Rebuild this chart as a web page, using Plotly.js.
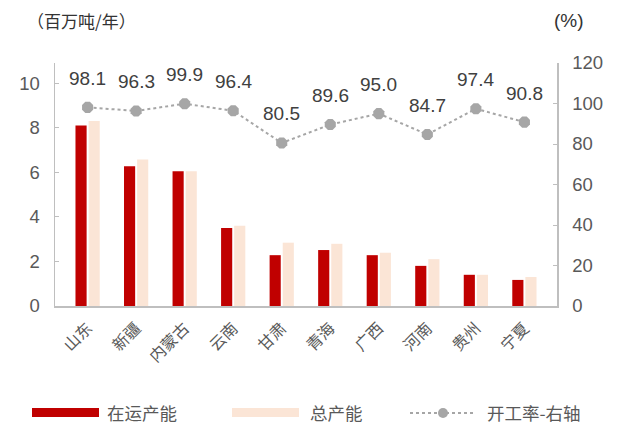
<!DOCTYPE html>
<html>
<head>
<meta charset="utf-8">
<script src="https://cdn.plot.ly/plotly-3.0.1.min.js"></script>
<style>html,body{margin:0;padding:0;background:#fff;}#chart{width:621px;height:426px;}</style>
</head>
<body>
<div id="chart"></div>
<script>
const categories = ['山东','新疆','内蒙古','云南','甘肃','青海','广西','河南','贵州','宁夏'];
const operatingCapacity = [8.1, 6.27, 6.04, 3.5, 2.28, 2.51, 2.28, 1.8, 1.4, 1.17];
const totalCapacity = [8.3, 6.57, 6.04, 3.6, 2.84, 2.79, 2.39, 2.1, 1.4, 1.3];
const utilizationRate = [98.1, 96.3, 99.9, 96.4, 80.5, 89.6, 95.0, 84.7, 97.4, 90.8];
const seriesNames = ['在运产能', '总产能', '开工率-右轴'];
const leftUnit = '（百万吨/年）';
const rightUnit = '(%)';

// plot area in pixels
const L = 55, R = 557, T = 63, B = 306;
const px = x => (x - L) / (R - L);
const py = y => (B - y) / (B - T);

const cjk = '"Noto Sans CJK SC", sans-serif';
const num = '"Liberation Sans", Arial, sans-serif';
const dark = '#C00000', light = '#FBE5D6', grey = '#A6A6A6';

const traces = [
  {type:'bar', name:seriesNames[0], x:categories, y:operatingCapacity, marker:{color:dark}, hoverinfo:'none'},
  {type:'bar', name:seriesNames[1], x:categories, y:totalCapacity, marker:{color:light}, hoverinfo:'none'},
  {type:'scatter', mode:'lines+markers', name:seriesNames[2], x:categories, y:utilizationRate, yaxis:'y2',
   line:{color:grey, width:2, dash:'dot'}, marker:{symbol:'octagon', size:12, color:grey}, hoverinfo:'none'}
];

const annotations = utilizationRate.map((v, i) => ({
  x: categories[i], y: v, xref:'x', yref:'y2', yshift: 29, showarrow:false,
  text: v.toFixed(1), font:{family:num, size:19, color:'#404040'}
}));

annotations.push(
  {xref:'paper', yref:'paper', x:px(25), y:py(20), xanchor:'left', yanchor:'middle', showarrow:false,
   text:leftUnit, font:{family:cjk, size:17, color:'#333333'}},
  {xref:'paper', yref:'paper', x:px(569), y:py(20), xanchor:'center', yanchor:'middle', showarrow:false,
   text:rightUnit, font:{family:num, size:19, color:'#333333'}},
  {xref:'paper', yref:'paper', x:px(105), y:py(412), xanchor:'left', yanchor:'middle', showarrow:false,
   text:seriesNames[0], font:{family:cjk, size:17.5, color:'#595959'}},
  {xref:'paper', yref:'paper', x:px(308), y:py(412), xanchor:'left', yanchor:'middle', showarrow:false,
   text:seriesNames[1], font:{family:cjk, size:17.5, color:'#595959'}},
  {xref:'paper', yref:'paper', x:px(485), y:py(412), xanchor:'left', yanchor:'middle', showarrow:false,
   text:seriesNames[2], font:{family:cjk, size:17.5, color:'#595959'}}
);

const shapes = [
  {type:'rect', xref:'paper', yref:'paper', x0:px(32), x1:px(99), y0:py(408), y1:py(417), fillcolor:dark, line:{width:0}},
  {type:'rect', xref:'paper', yref:'paper', x0:px(232), x1:px(299), y0:py(408), y1:py(417), fillcolor:light, line:{width:0}},
  {type:'line', xref:'paper', yref:'paper', x0:px(410), x1:px(473), y0:py(413), y1:py(413), line:{color:grey, width:2, dash:'dot'}},
  {type:'circle', xref:'paper', yref:'paper', x0:px(438), x1:px(448), y0:py(408), y1:py(418), fillcolor:grey, line:{width:0}}
];

const layout = {
  width:621, height:426,
  margin:{l:L, r:621-R, t:T, b:426-B},
  paper_bgcolor:'#fff', plot_bgcolor:'#fff',
  showlegend:false,
  barmode:'group', bargap:0.46, bargroupgap:0.15,
  font:{family:num, color:'#595959'},
  xaxis:{
    type:'category', showline:true, linecolor:'#BFBFBF', linewidth:1.5, ticks:'', showgrid:false,
    tickangle:-45, tickfont:{family:cjk, size:16, color:'#595959'}, zeroline:false, fixedrange:true,
    ticklabelstandoff:5
  },
  yaxis:{
    range:[0, 10.9], tickvals:[0,2,4,6,8,10], showline:true, linecolor:'#BFBFBF', linewidth:1.5,
    ticks:'inside', ticklen:4, tickcolor:'#BFBFBF', showgrid:false, zeroline:false,
    tickfont:{family:num, size:18.5, color:'#595959'}, ticklabelstandoff:10
  },
  yaxis2:{
    overlaying:'y', side:'right', range:[0, 120], tickvals:[0,20,40,60,80,100,120], showline:true,
    linecolor:'#BFBFBF', linewidth:1.5, ticks:'inside', ticklen:4, tickcolor:'#BFBFBF',
    showgrid:false, zeroline:false, tickfont:{family:num, size:18.5, color:'#595959'}, ticklabelstandoff:10
  },
  annotations: annotations,
  shapes: shapes
};

Plotly.newPlot('chart', traces, layout, {staticPlot:true, displayModeBar:false});
</script>
</body>
</html>
